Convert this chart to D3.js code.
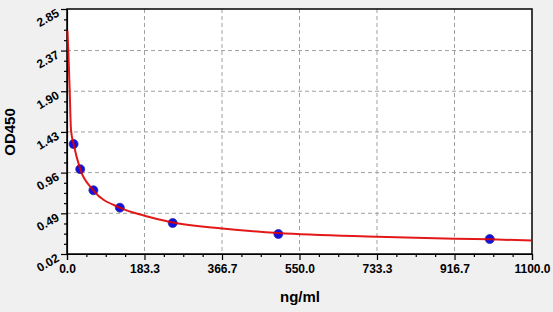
<!DOCTYPE html>
<meta charset="utf-8">
<style>
body { margin: 0; background: #f0f0f0; }
text { font-family: Arial, "Liberation Sans", sans-serif; font-weight: bold; fill: #000; }
.grid line { stroke: #a0a0a0; stroke-dasharray: 4,3; stroke-width: 1; }
</style>
<svg></svg>
<script src="https://d3js.org/d3.v7.min.js"></script>
<script>

// standards (ng/ml) and measured OD
var conc = [15.6, 31.25, 62.5, 125, 250, 500, 1000];
var od = [1.29, 1.00, 0.756, 0.555, 0.378, 0.251, 0.193];

// fitted curve
var curveX = [1, 3, 6.4, 9.5, 15.6, 31.25, 62.5, 125, 183.3, 250, 366.7, 500, 733.3, 916.7, 1000, 1100];
var curveY = [2.60, 2.38, 1.90, 1.45, 1.29, 1.00, 0.756, 0.555, 0.462, 0.385, 0.315, 0.262, 0.22, 0.197, 0.19, 0.175];

var xTicks = [0, 183.3, 366.7, 550.0, 733.3, 916.7, 1100.0];
var yTicks = [0.02, 0.49, 0.96, 1.43, 1.90, 2.37, 2.85];

var width = 553, height = 312;
var m = {left: 67, right: 532, top: 9, bottom: 254};

var svg = d3.select("svg").attr("width", width).attr("height", height);

var x = d3.scaleLinear().domain([0, 1100]).range([m.left, m.right]);
var y = d3.scaleLinear().domain([0.02, 2.85]).range([m.bottom, m.top]);

svg.append("rect")
  .attr("x", m.left).attr("y", m.top)
  .attr("width", m.right - m.left).attr("height", m.bottom - m.top)
  .attr("fill", "#fff");

// dashed grid
var grid = svg.append("g").attr("class", "grid");
grid.selectAll(".gx").data(xTicks.slice(1, -1)).enter().append("line")
  .attr("x1", function(d) { return x(d); }).attr("x2", function(d) { return x(d); })
  .attr("y1", m.top).attr("y2", m.bottom);
grid.selectAll(".gy").data(yTicks.slice(1, -1)).enter().append("line")
  .attr("y1", function(d) { return y(d); }).attr("y2", function(d) { return y(d); })
  .attr("x1", m.left).attr("x2", m.right);

// minor ticks, 4 steps per major interval
var xMinor = [], yMinor = [];
for (var i = 0; i < xTicks.length - 1; i++)
  for (var k = 1; k < 4; k++) xMinor.push(xTicks[i] + (xTicks[i + 1] - xTicks[i]) * k / 4);
for (var j = 0; j < yTicks.length - 1; j++)
  for (var k2 = 1; k2 < 4; k2++) yMinor.push(yTicks[j] + (yTicks[j + 1] - yTicks[j]) * k2 / 4);

var xAxis = svg.append("g").attr("transform", "translate(0," + m.bottom + ")")
  .call(d3.axisBottom(x).tickValues(xTicks).tickSize(6).tickFormat(d3.format(".1f")));
svg.append("g").attr("transform", "translate(0," + m.bottom + ")")
  .call(d3.axisBottom(x).tickValues(xMinor).tickSize(3).tickFormat(""))
  .select(".domain").remove();
xAxis.selectAll("text").attr("font-size", 12).attr("dy", "0.85em");

var yAxis = svg.append("g").attr("transform", "translate(" + m.left + ",0)")
  .call(d3.axisLeft(y).tickValues(yTicks).tickSize(6).tickFormat(d3.format(".2f")));
svg.append("g").attr("transform", "translate(" + m.left + ",0)")
  .call(d3.axisLeft(y).tickValues(yMinor).tickSize(3).tickFormat(""))
  .select(".domain").remove();
yAxis.selectAll("text")
  .attr("font-size", 12)
  .attr("x", 0).attr("dy", 0)
  .attr("text-anchor", "end")
  .attr("transform", "translate(-7,6) rotate(-30)");

svg.selectAll(".domain, .tick line").attr("stroke", "#000").attr("stroke-width", 1.2);

// frame
svg.append("rect")
  .attr("x", m.left).attr("y", m.top)
  .attr("width", m.right - m.left).attr("height", m.bottom - m.top)
  .attr("fill", "none").attr("stroke", "#000").attr("stroke-width", 1.5);

// points
svg.append("g").selectAll("circle").data(conc).enter().append("circle")
  .attr("cx", function(d) { return x(d); })
  .attr("cy", function(d, i) { return y(od[i]); })
  .attr("r", 4.5)
  .attr("fill", "#1010e0")
  .attr("stroke", "#3030a0").attr("stroke-width", 0.8);

// fitted curve
var line = d3.line()
  .x(function(d) { return x(d); })
  .y(function(d, i) { return y(curveY[i]); })
  .curve(d3.curveMonotoneX);
svg.append("path").datum(curveX)
  .attr("d", line)
  .attr("fill", "none")
  .attr("stroke", "#e00000")
  .attr("stroke-opacity", 0.9)
  .attr("stroke-width", 2);

// axis titles
svg.append("text")
  .attr("x", 300).attr("y", 302)
  .attr("text-anchor", "middle").attr("font-size", 15)
  .text("ng/ml");
svg.append("text")
  .attr("transform", "translate(15,132) rotate(-90)")
  .attr("text-anchor", "middle").attr("font-size", 15)
  .text("OD450");

</script>
